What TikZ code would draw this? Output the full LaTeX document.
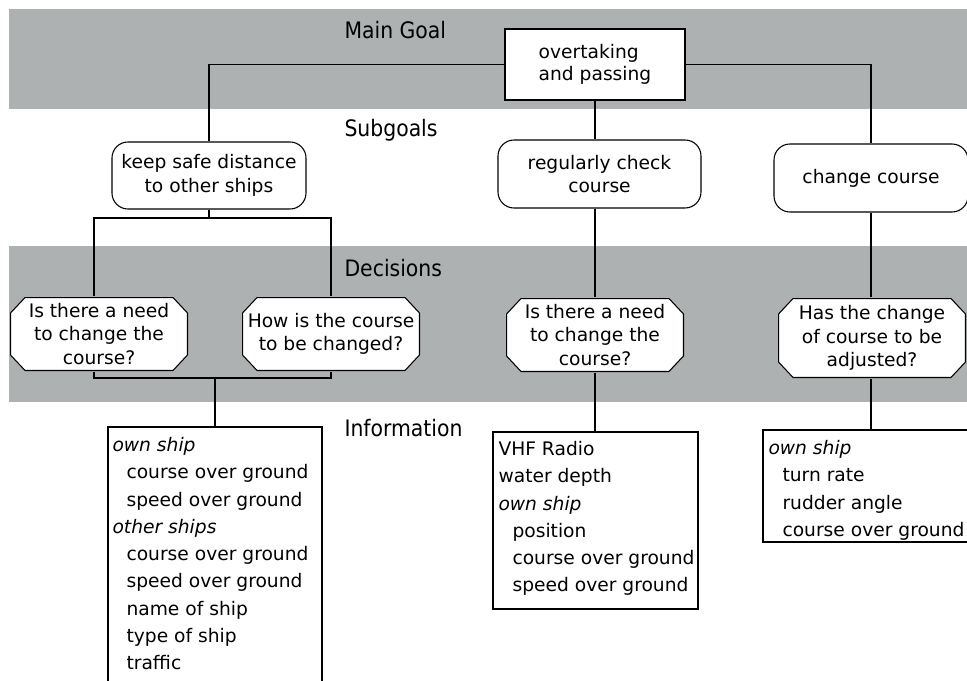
\documentclass[tikz,border=0pt]{standalone}
\usepackage{fontspec}
\setmainfont{DejaVu Sans}
\newfontfamily\bandfont{DejaVu Sans Condensed}
\definecolor{bandgray}{RGB}{174,177,177}

\begin{document}
\begin{tikzpicture}[x=0.75pt,y=-0.75pt,
  line width=0.8pt,
  boxtext/.style={font=\fontsize{14}{17.75}\selectfont, align=center, inner sep=0pt},
  goalbox/.style={boxtext, draw, fill=white, align=left, font=\fontsize{14}{16.3}\selectfont},
  subgoal/.style={boxtext, draw, fill=white, rounded corners=12pt},
  decision/.style={boxtext, fill=bandgray, path picture={
    \filldraw[fill=white, draw=black, line width=0.8pt]
      ([xshift=11.25pt,yshift=-0.4pt]path picture bounding box.north west) --
      ([xshift=-11.25pt,yshift=-0.4pt]path picture bounding box.north east) --
      ([xshift=-0.4pt,yshift=-12pt]path picture bounding box.north east) --
      ([xshift=-0.4pt,yshift=12pt]path picture bounding box.south east) --
      ([xshift=-11.25pt,yshift=0.4pt]path picture bounding box.south east) --
      ([xshift=11.25pt,yshift=0.4pt]path picture bounding box.south west) --
      ([xshift=0.4pt,yshift=12pt]path picture bounding box.south west) --
      ([xshift=0.4pt,yshift=-12pt]path picture bounding box.north west) -- cycle;}},
  infobox/.style={draw, fill=white, inner sep=0pt},
  infotext/.style={font=\fontsize{14}{20.45}\selectfont, align=left, inner sep=0pt, anchor=north west},
  bandlabel/.style={font=\bandfont\fontsize{17}{20}\selectfont, anchor=base west, inner sep=0pt}
]
\useasboundingbox (0,0) rectangle (967,681);
\clip (0,0) rectangle (967,681);
\fill[white] (0,0) rectangle (967,681);

% grey bands behind the goal and decision levels
\fill[bandgray] (9,9) rectangle (967,109);
\fill[bandgray] (9,246) rectangle (967,402);

% level captions
\node[bandlabel] (lgoal) at (344,38.5) {Main Goal};
\node[bandlabel] (lsub) at (344,137) {Subgoals};
\node[bandlabel] (ldec) at (344,276) {Decisions};
\node[bandlabel] (linf) at (344,436) {Information};

% main goal
\node[goalbox, minimum width=135pt, minimum height=53.25pt] (goal) at (595,64.5)
  {overtaking\\and passing};

% subgoals
\node[subgoal, minimum width=145.5pt, minimum height=50.25pt] (sg1) at (209,175.5)
  {keep safe distance\\to other ships};
\node[subgoal, minimum width=152.25pt, minimum height=51pt] (sg2) at (599.5,174)
  {regularly check\\course};
\node[subgoal, minimum width=145.5pt, minimum height=51pt] (sg3) at (871,178)
  {change course};

% decisions
\node[decision, minimum width=133.5pt, minimum height=55.5pt] (d1) at (99,334)
  {Is there a need\\to change the\\course?};
\node[decision, minimum width=133.5pt, minimum height=55.5pt] (d2) at (331,334)
  {How is the course\\to be changed?};
\node[decision, minimum width=133.5pt, minimum height=55.5pt] (d3) at (595,335)
  {Is there a need\\to change the\\course?};
\node[decision, minimum width=141pt, minimum height=60pt] (d4) at (872,338)
  {Has the change\\of course to be\\adjusted?};

% information boxes
\node[infobox, minimum width=160.5pt, minimum height=204.75pt] (i1) at (215,563.5) {};
\node[infobox, minimum width=153.75pt, minimum height=132.75pt] (i2) at (595.5,520.5) {};
\node[infobox, minimum width=159pt, minimum height=84pt] (i3) at (869,486) {};

\node[infotext] (i1t) at (112,432.3) {\rule{0pt}{14pt}\itshape own ship\\
  \hspace*{10.5pt}course over ground\\
  \hspace*{10.5pt}speed over ground\\
  \itshape other ships\\
  \hspace*{10.5pt}course over ground\\
  \hspace*{10.5pt}speed over ground\\
  \hspace*{10.5pt}name of ship\\
  \hspace*{10.5pt}type of ship\\
  \hspace*{10.5pt}traffic};
\node[infotext] (i2t) at (498,436.3) {\rule{0pt}{14pt}VHF Radio\\
  water depth\\
  \itshape own ship\\
  \hspace*{10.5pt}position\\
  \hspace*{10.5pt}course over ground\\
  \hspace*{10.5pt}speed over ground};
\node[infotext] (i3t) at (768,435.3) {\rule{0pt}{14pt}\itshape own ship\\
  \hspace*{10.5pt}turn rate\\
  \hspace*{10.5pt}rudder angle\\
  \hspace*{10.5pt}course over ground};

% connectors
\coordinate (jl) at (94,218);
\coordinate (jr) at (331,218);
\coordinate (kl) at (94,378);
\coordinate (kr) at (331,378);

\draw (goal.west) -| (sg1.north);
\draw (goal.east) -| (sg3.north);
\draw (goal.south) -- (goal.south |- sg2.north);
\draw (sg1.south) -- (sg1.south |- jl);
\draw (jl |- d1.north) -- (jl) -- (jr) -- (jr |- d2.north);
\draw (kl |- d1.south) -- (kl) -- (kr) -- (kr |- d2.south);
\draw (i1.north |- kl) -- (i1.north);
\draw (d3.north |- sg2.south) -- (d3.north);
\draw (d3.south) -- (d3.south |- i2.north);
\draw (sg3.south) -- (sg3.south |- d4.north);
\draw (sg3.south |- d4.south) -- (sg3.south |- i3.north);
\end{tikzpicture}
\end{document}
